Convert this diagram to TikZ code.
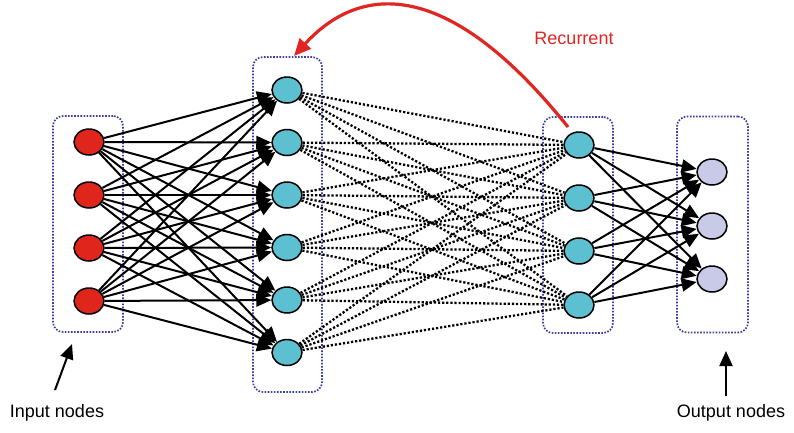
\documentclass[tikz,border=0pt]{standalone}
\usepackage{fontspec}
\setmainfont{Liberation Sans}
\usetikzlibrary{arrows.meta,shapes.geometric}
\definecolor{inred}{HTML}{E0251C}
\definecolor{hidcyan}{HTML}{5CC0D0}
\definecolor{outlav}{HTML}{C9C9E8}
\definecolor{boxblue}{HTML}{3C3CA0}
\definecolor{recred}{HTML}{E02522}
\tikzset{
  neuron/.style={ellipse, draw=black, line width=1.5pt, minimum width=30pt, minimum height=26pt, inner sep=0pt},
  inp/.style={neuron, fill=inred},
  hid/.style={neuron, fill=hidcyan},
  outn/.style={neuron, fill=outlav},
  grp/.style={draw=boxblue, line width=1.7pt, dash pattern=on 1.6pt off 1.5pt, rounded corners=10pt, inner sep=0pt},
  solidedge/.style={black, line width=2pt, -{Triangle[length=15pt,width=13pt]}},
  dotedge/.style={black, line width=2.3pt, dash pattern=on 2.2pt off 1.9pt},
  lbl/.style={font=\fontsize{18}{20}\selectfont, inner sep=0pt},
  pointer/.style={black, line width=2pt, -{Triangle[length=15pt,width=13pt]}}
}
\begin{document}
\begin{tikzpicture}[x=1pt,y=-1pt]
\useasboundingbox (0,0) rectangle (794,432);
% group boxes
\node[grp, minimum width=70pt, minimum height=216pt] (ib) at (88,224) {};
\node[grp, minimum width=69pt, minimum height=335pt] (hb) at (287.5,224.5) {};
\node[grp, minimum width=70pt, minimum height=216pt] (gb) at (578,225) {};
\node[grp, minimum width=71pt, minimum height=216pt] (ob) at (712.5,224.5) {};
% nodes
\foreach \i/\y in {1/142,2/195,3/248,4/301} \node[inp] (i\i) at (89,\y) {};
\foreach \i/\y in {1/90,2/142.5,3/195,4/247.5,5/300,6/352.5} \node[hid] (h\i) at (287,\y) {};
\foreach \i/\y in {1/145,2/198,3/251,4/305} \node[hid] (g\i) at (579,\y) {};
\foreach \i/\y in {1/172,2/226,3/279} \node[outn] (o\i) at (712,\y) {};
% edges input -> hidden1
\foreach \a in {1,...,4} \foreach \b in {1,...,6} \draw[solidedge] (i\a) -- (h\b);
% hidden1 -> hidden2
\foreach \a in {1,...,6} \foreach \b in {1,...,4} \draw[dotedge] (h\a) -- (g\b);
% hidden2 -> output
\foreach \a in {1,...,4} \foreach \b in {1,...,3} \draw[solidedge] (g\a) -- (o\b);
% recurrent
\coordinate (rs) at (568,127);
\coordinate (re) at (294,56);
\draw[recred, line width=3.2pt, -{Triangle[length=17pt,width=15pt]}] (rs) .. controls (430,-45) and (345,0) .. (re);
\node[lbl, text=recred] (rec) at (574,38) {Recurrent};
% labels
\node[lbl] (inlbl) at (57,413) {Input nodes};
\node[lbl] (outlbl) at (731,413) {Output nodes};
\coordinate (ia) at (55,390);
\coordinate (ib2) at (72,344);
\draw[pointer] (ia) -- (ib2);
\coordinate (oa) at (726,396);
\coordinate (ob2) at (726,351);
\draw[pointer] (oa) -- (ob2);
\end{tikzpicture}
\end{document}
